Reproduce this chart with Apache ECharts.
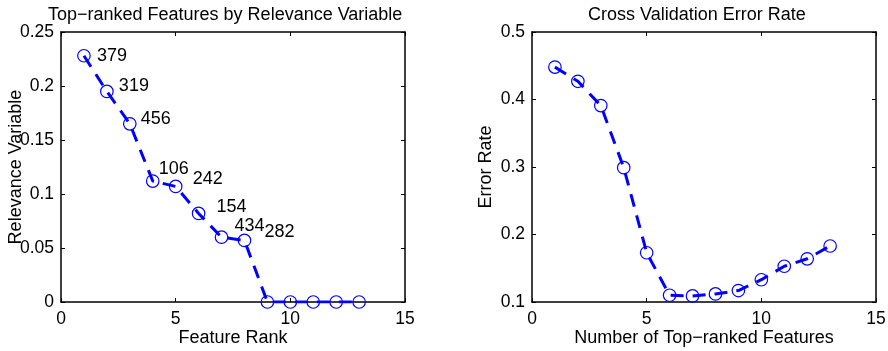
<!DOCTYPE html>
<html>
<head>
<meta charset="utf-8">
<script src="https://cdn.jsdelivr.net/npm/echarts@6/dist/echarts.min.js"></script>
<style>
html,body{margin:0;padding:0;background:#fff;}
#chart{width:888px;height:351px;}
</style>
</head>
<body>
<div id="chart"></div>
<script>
// ---- data ----
const featureRank = [1,2,3,4,5,6,7,8,9,10,11,12,13];
const relevance = [0.228,0.195,0.165,0.112,0.107,0.082,0.060,0.057,0,0,0,0,0];
const featureIds = ['379','319','456','106','242','154','434','282'];
const numFeatures = [1,2,3,4,5,6,7,8,9,10,11,12,13];
const errorRate = [0.448,0.427,0.391,0.299,0.173,0.110,0.109,0.112,0.117,0.133,0.153,0.164,0.183];
const xTicks = [0,5,10,15];
const relTicks = ['0','0.05','0.1','0.15','0.2','0.25'];
const errTicks = ['0.1','0.2','0.3','0.4','0.5'];

// ---- layout (not data) ----
const labelOffsets = [[13,0],[12,-5],[11,-5],[6,-12],[17,-7],[18,-6],[13,-11],[20,-8]];

const FONT = 'Liberation Sans, Arial, Helvetica, sans-serif';
const BLUE = '#0000ff';

function fmtTick(v){ return String(Math.round(v*1000)/1000); }

function mainAxis(gridIndex, pos, min, max, interval, name, nameGap, isY){
  return {
    type:'value', gridIndex, position:pos, min, max, interval,
    name, nameLocation:'middle', nameGap, nameMoveOverlap:false,
    nameTextStyle:{fontFamily:FONT, fontSize:18, color:'#000'},
    axisLine:{show:true, onZero:false, lineStyle:{color:'#000', width:1.5}},
    axisTick:{show:true, inside:true, length:4, lineStyle:{color:'#000', width:1}},
    axisLabel:{show:true, margin:isY?7:8, fontFamily:FONT, fontSize:17.5, color:'#000', formatter:fmtTick},
    splitLine:{show:false}
  };
}
function mirrorAxis(gridIndex, pos, min, max, interval){
  return {
    type:'value', gridIndex, position:pos, min, max, interval,
    axisLine:{show:true, onZero:false, lineStyle:{color:'#000', width:1.5}},
    axisTick:{show:true, inside:true, length:4, lineStyle:{color:'#000', width:1}},
    axisLabel:{show:false},
    splitLine:{show:false}
  };
}

const relData = featureRank.map((x,i)=>{
  const item = {value:[x, relevance[i]]};
  if (i < featureIds.length) {
    item.label = {show:true, formatter:featureIds[i], position:'inside', align:'left',
      verticalAlign:'middle', offset:labelOffsets[i], fontFamily:FONT, fontSize:18, color:'#000'};
  }
  return item;
});
const errData = numFeatures.map((x,i)=>[x, errorRate[i]]);

const seriesStyle = {
  type:'line', symbol:'circle', symbolSize:12.5, showAllSymbol:true,
  lineStyle:{color:BLUE, width:3, type:[13,9]},
  itemStyle:{color:'rgba(255,255,255,0)', borderColor:BLUE, borderWidth:1.2},
  emphasis:{disabled:true}, animation:false
};

const option = {
  animation:false,
  title:[
    {text:'Top\u2212ranked Features by Relevance Variable', left:43, top:1,
     textStyle:{fontFamily:FONT, fontSize:18, fontWeight:'normal', color:'#000'}},
    {text:'Cross Validation Error Rate', left:583, top:1,
     textStyle:{fontFamily:FONT, fontSize:18, fontWeight:'normal', color:'#000'}}
  ],
  grid:[
    {left:61, top:32, right:483, bottom:49, containLabel:false, outerBoundsMode:'none'},
    {left:532, top:32, right:12, bottom:49, containLabel:false, outerBoundsMode:'none'}
  ],
  xAxis:[
    mainAxis(0,'bottom',xTicks[0],xTicks[xTicks.length-1],5,'Feature Rank',27,false),
    mirrorAxis(0,'top',xTicks[0],xTicks[xTicks.length-1],5),
    mainAxis(1,'bottom',xTicks[0],xTicks[xTicks.length-1],5,'Number of Top\u2212ranked Features',27,false),
    mirrorAxis(1,'top',xTicks[0],xTicks[xTicks.length-1],5)
  ],
  yAxis:[
    mainAxis(0,'left',0,0.25,0.05,'Relevance Variable',36,true),
    mirrorAxis(0,'right',0,0.25,0.05),
    mainAxis(1,'left',0.1,0.5,0.1,'Error Rate',37,true),
    mirrorAxis(1,'right',0.1,0.5,0.1)
  ],
  series:[
    Object.assign({}, seriesStyle, {xAxisIndex:0, yAxisIndex:0, data:relData}),
    Object.assign({}, seriesStyle, {xAxisIndex:2, yAxisIndex:2, data:errData})
  ]
};

const chart = echarts.init(document.getElementById('chart'), null, {renderer:'canvas'});
chart.setOption(option);
</script>
</body>
</html>
